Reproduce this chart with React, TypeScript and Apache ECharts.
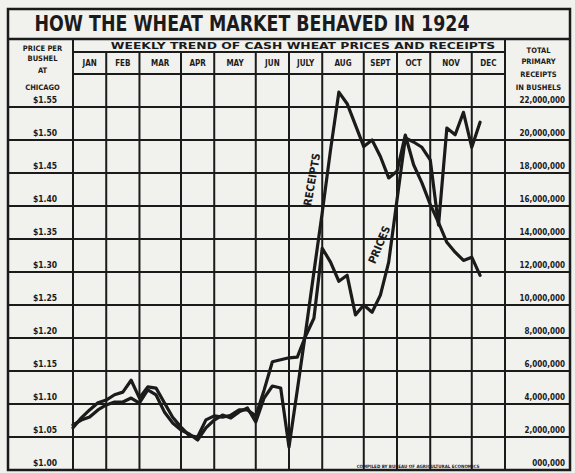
import React, { useEffect, useRef } from "react";
import * as echarts from "echarts";

// ---------- texts ----------
const TITLE = "HOW THE WHEAT MARKET BEHAVED IN 1924";
const SUBTITLE = "WEEKLY TREND OF CASH WHEAT PRICES AND RECEIPTS";
const LEFT_HEADER = ["PRICE PER", "BUSHEL", "AT", "CHICAGO"];
const RIGHT_HEADER = ["TOTAL", "PRIMARY", "RECEIPTS", "IN BUSHELS"];
const CREDIT = "COMPILED BY BUREAU OF AGRICULTURAL ECONOMICS";
const PRICES_LABEL = "PRICES";
const RECEIPTS_LABEL = "RECEIPTS";

// ---------- categories ----------
const months = ["JAN", "FEB", "MAR", "APR", "MAY", "JUN", "JULY", "AUG", "SEPT", "OCT", "NOV", "DEC"];
const weeksPerMonth = [4, 4, 5, 4, 5, 4, 4, 5, 4, 4, 5, 4];

// ---------- data (week of year, 0 = first week of January) ----------
const weeks = [
  0, 1, 2, 3, 4, 5, 6, 7, 8, 9, 10, 11, 12, 13, 14, 15, 16, 17, 18, 19, 20, 21, 22, 23, 24,
  25, 26, 27, 28, 29, 30, 31, 32, 33, 34, 35, 36, 37, 38, 39, 40, 41, 42, 43, 44, 45, 46, 47, 48, 49,
];
// cash wheat price, dollars per bushel at Chicago
const prices = [
  1.064, 1.079, 1.091, 1.102, 1.106, 1.114, 1.118, 1.136, 1.109, 1.126,
  1.124, 1.102, 1.08, 1.065, 1.052, 1.05, 1.076, 1.082, 1.08, 1.083,
  1.091, 1.091, 1.082, 1.121, 1.164, 1.167, 1.17, 1.171, 1.203, 1.23,
  1.336, 1.315, 1.286, 1.295, 1.235, 1.25, 1.239, 1.265, 1.315, 1.409,
  1.503, 1.497, 1.489, 1.47, 1.371, 1.518, 1.508, 1.542, 1.489, 1.527,
];
// total primary receipts, bushels
const receipts = [
  2730000, 3030000, 3210000, 3640000, 3940000, 4120000, 4120000, 4360000, 4060000, 4850000,
  4550000, 3520000, 2850000, 2420000, 2180000, 1820000, 2550000, 3030000, 3330000, 3150000,
  3520000, 3760000, 2910000, 4360000, 5090000, 4970000, 1390000, 4850000, 8360000, 12000000,
  15600000, 19400000, 22900000, 22200000, 20900000, 19600000, 20000000, 19000000, 17700000, 18100000,
  20300000, 18500000, 17400000, 16100000, 15000000, 13800000, 13200000, 12700000, 12900000, 11800000,
];

// ---------- axes ----------
const priceMin = 1.0;
const priceMax = 1.6;
const priceStep = 0.05;
const priceTopLabel = 1.55;
const receiptsMin = 0;
const receiptsMax = 24000000;
const receiptsStep = 2000000;
const receiptsTopLabel = 22000000;

// ---------- layout (pixels) ----------
const W = 575;
const H = 473;
const FRAME_L = 8;
const FRAME_R = 570;
const FRAME_T = 9;
const FRAME_B = 470;
const PLOT_L = 73;
const PLOT_R = 505;
const TITLE_B = 39;
const SUB_B = 52;
const GRID_TOP = 74;

const INK = "#1b1b1b";
const PAPER = "#f1f1ee";
const FONT = "'DejaVu Sans Condensed', 'Liberation Sans Narrow', 'DejaVu Sans', sans-serif";

function measure(text: string, size: number): number {
  const c = document.createElement("canvas").getContext("2d");
  if (!c) return text.length * size * 0.6;
  c.font = `bold ${size}px ${FONT}`;
  return c.measureText(text).width;
}

export default function App() {
  const ref = useRef<HTMLDivElement>(null);

  useEffect(() => {
    if (!ref.current) return;
    const chart = echarts.init(ref.current, undefined, { renderer: "svg" });
    const totalWeeks = weeksPerMonth.reduce((a, b) => a + b, 0);
    const pxPerWeek = (PLOT_R - PLOT_L) / totalWeeks;
    const xMin = -(PLOT_L - FRAME_L) / pxPerWeek;
    const xMax = totalWeeks + (FRAME_R - PLOT_R) / pxPerWeek;

    const lineStyle = { color: INK, width: 3.2, join: "round" as const, cap: "round" as const };

    chart.setOption({
      animation: false,
      backgroundColor: PAPER,
      grid: { left: FRAME_L, right: W - FRAME_R, top: GRID_TOP, bottom: H - FRAME_B, containLabel: false },
      xAxis: { type: "value", min: xMin, max: xMax, show: false },
      yAxis: [
        {
          type: "value",
          position: "left",
          min: priceMin,
          max: priceMax,
          interval: priceStep,
          axisLine: { show: false },
          axisTick: { show: false },
          splitLine: {
            show: true,
            showMinLine: false,
            showMaxLine: false,
            lineStyle: { color: INK, width: 2 },
          },
          axisLabel: {
            inside: true,
            margin: 37,
            align: "center",
            verticalAlign: "bottom",
            padding: [0, 0, 3, 0],
            fontSize: 8.5,
            fontWeight: "bold",
            fontFamily: FONT,
            color: INK,
            formatter: (v: number) => (v > priceTopLabel + 0.001 ? "" : "$" + v.toFixed(2)),
          },
        },
        {
          type: "value",
          position: "right",
          min: receiptsMin,
          max: receiptsMax,
          interval: receiptsStep,
          axisLine: { show: false },
          axisTick: { show: false },
          splitLine: { show: false },
          axisLabel: {
            inside: true,
            margin: 5,
            align: "right",
            verticalAlign: "bottom",
            padding: [0, 0, 3, 0],
            fontSize: 8,
            fontWeight: "bold",
            fontFamily: FONT,
            color: INK,
            formatter: (v: number) =>
              v > receiptsTopLabel ? "" : v === 0 ? "000,000" : v.toLocaleString("en-US"),
          },
        },
      ],
      series: [
        {
          name: "Prices",
          type: "line",
          yAxisIndex: 0,
          data: weeks.map((w, i) => [w, prices[i]]),
          showSymbol: false,
          symbol: "none",
          lineStyle,
          z: 5,
        },
        {
          name: "Receipts",
          type: "line",
          yAxisIndex: 1,
          data: weeks.map((w, i) => [w, receipts[i]]),
          showSymbol: false,
          symbol: "none",
          lineStyle,
          z: 5,
        },
      ],
    });

    const xp = (w: number) => chart.convertToPixel({ xAxisIndex: 0 }, w) as number;
    const yp = (v: number) => chart.convertToPixel({ yAxisIndex: 0 }, v) as number;
    const yr = (v: number) => chart.convertToPixel({ yAxisIndex: 1 }, v) as number;

    const bounds: number[] = [0];
    weeksPerMonth.forEach((n) => bounds.push(bounds[bounds.length - 1] + n));

    const headerBottom = yp(priceMax);
    const x0 = xp(bounds[0]);
    const x1 = xp(bounds[bounds.length - 1]);

    const ln = (xa: number, ya: number, xb: number, yb: number, w = 2) => ({
      type: "line",
      z: 1,
      silent: true,
      shape: { x1: xa, y1: ya, x2: xb, y2: yb },
      style: { stroke: INK, lineWidth: w },
    });
    const txt = (
      text: string,
      x: number,
      y: number,
      size: number,
      extra: Record<string, any> = {}
    ) => ({
      type: "text",
      z: 3,
      silent: true,
      x,
      y,
      ...extra,
      style: {
        text,
        fill: INK,
        fontSize: size,
        fontWeight: "bold",
        fontFamily: FONT,
        align: "center",
        verticalAlign: "middle",
      },
    });

    const elements: any[] = [];
    // outer frame
    elements.push({
      type: "rect",
      z: 1,
      silent: true,
      shape: { x: FRAME_L, y: FRAME_T, width: FRAME_R - FRAME_L, height: FRAME_B - FRAME_T },
      style: { fill: "none", stroke: INK, lineWidth: 2.5 },
    });
    elements.push(ln(FRAME_L, TITLE_B, FRAME_R, TITLE_B, 2.5));
    elements.push(ln(x0, SUB_B, x1, SUB_B));
    elements.push(ln(x0, headerBottom, x1, headerBottom));
    // column dividers
    bounds.forEach((b, i) => {
      const x = xp(b);
      const top = i === 0 || i === bounds.length - 1 ? TITLE_B : SUB_B;
      elements.push(ln(x, top, x, FRAME_B, 2));
    });
    // month labels
    months.forEach((m, i) => {
      const cx = (xp(bounds[i]) + xp(bounds[i + 1])) / 2;
      elements.push(txt(m, cx, (SUB_B + headerBottom) / 2, 8));
    });
    // title
    const titleSize = 22;
    const titleScale = 435 / measure(TITLE, titleSize);
    elements.push(txt(TITLE, 252, 24, titleSize, { scaleX: titleScale }));
    // subtitle
    const subSize = 8.5;
    const subScale = 385 / measure(SUBTITLE, subSize);
    elements.push(txt(SUBTITLE, (x0 + x1) / 2 + 14, 46, subSize, { scaleX: subScale }));
    // side headers
    const leftCx = (FRAME_L + x0) / 2 + 2;
    const leftYs = [48, 58, 70, 87];
    LEFT_HEADER.forEach((t, i) => elements.push(txt(t, leftCx, leftYs[i], 7.5)));
    const rightCx = (x1 + FRAME_R) / 2 + 1;
    const rightYs = [50, 61, 74, 87];
    RIGHT_HEADER.forEach((t, i) => elements.push(txt(t, rightCx, rightYs[i], 7.5)));
    // labels along the lines
    elements.push(
      txt(RECEIPTS_LABEL, xp(28.8), yr(17600000), 11, { rotation: (80 * Math.PI) / 180, z: 6 })
    );
    elements.push(
      txt(PRICES_LABEL, xp(36.9), yp(1.341), 11, { rotation: (67 * Math.PI) / 180, z: 6 })
    );
    // credit line
    elements.push(txt(CREDIT, 418, 466, 4.5));

    chart.setOption({ graphic: { elements } });

    return () => chart.dispose();
  }, []);

  return (
    <div
      ref={ref}
      style={{ position: "fixed", left: 0, top: 0, width: W, height: H, background: PAPER }}
    />
  );
}
